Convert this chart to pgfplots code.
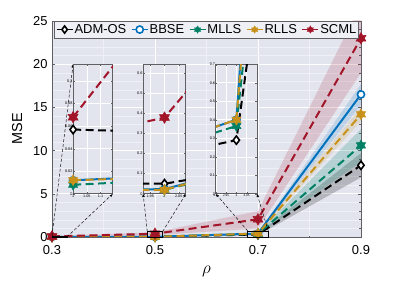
\documentclass[border=0pt]{standalone}
\usepackage{pgfplots}
\pgfplotsset{compat=1.18}
\usepackage{pgfplotstable}
\usepackage{fontspec}
\setmainfont{Liberation Sans}
\usetikzlibrary{arrows.meta}

\definecolor{bgc}{RGB}{226,228,238}
\definecolor{axc}{RGB}{95,95,100}
\definecolor{admc}{RGB}{0,0,0}
\definecolor{bbsec}{RGB}{0,114,189}
\definecolor{mllsc}{RGB}{0,128,100}
\definecolor{rllsc}{RGB}{200,145,25}
\definecolor{scmlc}{RGB}{162,20,40}

\pgfdeclareplotmark{hexagram}{%
  \pgfpathmoveto{\pgfpointpolar{90}{\pgfplotmarksize}}%
  \pgfpathlineto{\pgfpointpolar{120}{0.577\pgfplotmarksize}}%
  \pgfpathlineto{\pgfpointpolar{150}{\pgfplotmarksize}}%
  \pgfpathlineto{\pgfpointpolar{180}{0.577\pgfplotmarksize}}%
  \pgfpathlineto{\pgfpointpolar{210}{\pgfplotmarksize}}%
  \pgfpathlineto{\pgfpointpolar{240}{0.577\pgfplotmarksize}}%
  \pgfpathlineto{\pgfpointpolar{270}{\pgfplotmarksize}}%
  \pgfpathlineto{\pgfpointpolar{300}{0.577\pgfplotmarksize}}%
  \pgfpathlineto{\pgfpointpolar{330}{\pgfplotmarksize}}%
  \pgfpathlineto{\pgfpointpolar{0}{0.577\pgfplotmarksize}}%
  \pgfpathlineto{\pgfpointpolar{30}{\pgfplotmarksize}}%
  \pgfpathlineto{\pgfpointpolar{60}{0.577\pgfplotmarksize}}%
  \pgfpathclose
  \pgfusepathqfillstroke
}

\pgfplotstableread{
idx rho adm bbse mlls rlls scml
1 0.3 0.057 0.012 0.008 0.012 0.068
2 0.5 0.050 0.023 0.020 0.020 0.378
3 0.7 0.290 0.400 0.366 0.400 2.05
4 0.9 8.3 16.5 10.6 14.2 23.0
}\data

\tikzset{zoomline/.style={black, line width=0.45pt, densely dashed, -{Stealth[length=3.2bp,width=2.4bp,inset=0pt]}}}

\pgfplotsset{
  admS/.style={admc, line width=2pt, dash pattern=on 8pt off 4.5pt, mark=diamond*, mark size=4.2pt, mark options={solid, fill=white, line width=1.6pt}},
  bbseS/.style={bbsec, line width=2pt, solid, mark=*, mark size=3.6pt, mark options={solid, fill=white, line width=1.6pt}},
  mllsS/.style={mllsc, line width=2pt, dash pattern=on 8pt off 4.5pt, mark=hexagram, mark size=5.4pt, mark options={solid, fill=mllsc, line width=0.5pt}},
  rllsS/.style={rllsc, line width=2pt, dash pattern=on 8pt off 4.5pt, mark=hexagram, mark size=5.4pt, mark options={solid, fill=rllsc, line width=0.5pt}},
  scmlS/.style={scmlc, line width=2pt, dash pattern=on 8pt off 4.5pt, mark=hexagram, mark size=5.8pt, mark options={solid, fill=scmlc, line width=0.5pt}},
  inset/.style={scale only axis, height=129.6bp, anchor=south west,
    axis background/.style={fill=bgc},
    grid=major, major grid style={white, line width=0.5pt},
    tick align=inside, major tick length=1.5bp, tick style={axc, line width=0.3pt},
    axis line style={axc, line width=0.8pt},
    ticklabel style={font=\fontsize{3.8}{3.8}\selectfont, inner sep=0.5pt},
    /pgf/number format/assume math mode=true,
    /pgf/number format/fixed, scaled ticks=false,
    clip mode=individual, ymin=0},
}

\begin{document}
\begin{tikzpicture}
\path[use as bounding box] (-52bp,-45bp) rectangle (347bp,237bp);
\begin{axis}[name=main, scale only axis, width=309bp, height=216bp,
  xmin=0.3, xmax=0.9, ymin=0, ymax=25,
  xtick={0.3,0.5,0.7,0.9}, ytick={0,5,...,25},
  minor y tick num=4, minor x tick num=1,
  grid=both, major grid style={white, line width=0.8pt},
  minor grid style={white!45!bgc, line width=0.4pt},
  axis background/.style={fill=bgc},
  axis line style={axc, line width=0.6pt},
  tick align=inside, tick style={axc, line width=0.5pt},
  major tick length=3bp, minor tick length=1.5bp,
  xlabel={$\rho$}, ylabel={MSE},
  ticklabel style={font=\fontsize{13}{13}\selectfont},
  xticklabel style={/pgf/number format/fixed, /pgf/number format/precision=1, yshift=-5bp},
  yticklabel style={xshift=-1bp},
  /pgf/number format/assume math mode=true,
  label style={font=\fontsize{14.5}{14.5}\selectfont},
  xlabel style={yshift=-5bp, font=\fontsize{16}{16}\selectfont},
  ylabel style={yshift=4bp},
  clip mode=individual,
  legend columns=5,
  legend style={at={(0.5,1)}, anchor=north, draw=axc, line width=0.6pt, fill=bgc!55!white,
    font=\fontsize{13}{13}\selectfont, inner xsep=1pt, inner ysep=1.5pt,
    nodes={inner xsep=1pt, inner ysep=1.5pt},
    /tikz/every even column/.append style={column sep=3.5bp}},
  legend image code/.code={\draw[mark repeat=2, mark phase=2, solid, line width=1.8pt, mark size=3.6pt] plot coordinates {(0bp,0bp) (8bp,0bp) (16bp,0bp)};},
]
% bands
\addplot[draw=none, fill=admc, fill opacity=0.2, forget plot] coordinates {(0.3,0.05)(0.5,0.04)(0.7,0.2)(0.9,6.9)(0.9,9.7)(0.7,0.38)(0.5,0.06)(0.3,0.065)} --cycle;
\addplot[draw=none, fill=bbsec, fill opacity=0.16, forget plot] coordinates {(0.3,0.008)(0.5,0.015)(0.7,0.3)(0.9,15.3)(0.9,17.7)(0.7,0.5)(0.5,0.03)(0.3,0.016)} --cycle;
\addplot[draw=none, fill=mllsc, fill opacity=0.2, forget plot] coordinates {(0.3,0.005)(0.5,0.012)(0.7,0.26)(0.9,8.7)(0.9,12.5)(0.7,0.46)(0.5,0.028)(0.3,0.011)} --cycle;
\addplot[draw=none, fill=rllsc, fill opacity=0.16, forget plot] coordinates {(0.3,0.008)(0.5,0.012)(0.7,0.3)(0.9,13.4)(0.9,15.0)(0.7,0.5)(0.5,0.028)(0.3,0.016)} --cycle;
\addplot[draw=none, fill=scmlc, fill opacity=0.16, forget plot] coordinates {(0.3,0.05)(0.5,0.2)(0.7,1.0)(0.9,19)(0.9,27)(0.7,3.0)(0.5,0.55)(0.3,0.09)} --cycle;
% lines
\addplot[admS] table[x=rho, y=adm]{\data};
\addplot[bbseS] table[x=rho, y=bbse]{\data};
\addplot[mllsS] table[x=rho, y=mlls]{\data};
\addplot[rllsS] table[x=rho, y=rlls]{\data};
\addplot[scmlS] table[x=rho, y=scml]{\data};
\legend{ADM-OS, BBSE, MLLS, RLLS, SCML}
% zoom boxes and links
\draw[black, line width=0.6pt] (axis cs:0.3,0) rectangle (axis cs:0.329,0.115);
\draw[black, line width=0.6pt] (axis cs:0.485,0) rectangle (axis cs:0.515,0.643);
\draw[black, line width=0.6pt] (axis cs:0.68,0) rectangle (axis cs:0.72,0.7);
\draw[zoomline] (axis cs:0.3,0.115) -- (axis cs:0.341,20);
\draw[zoomline] (axis cs:0.329,0) -- (axis cs:0.418,5);
\draw[zoomline] (axis cs:0.485,0.643) -- (axis cs:0.477,5);
\draw[zoomline] (axis cs:0.515,0.643) -- (axis cs:0.560,5);
\draw[zoomline] (axis cs:0.68,0.7) -- (axis cs:0.618,5);
\draw[zoomline] (axis cs:0.72,0.7) -- (axis cs:0.698,5);
\coordinate (i1) at (axis cs:0.341,5);
\coordinate (i2) at (axis cs:0.477,5);
\coordinate (i3) at (axis cs:0.618,5);
\end{axis}

\begin{axis}[inset, at={(i1)}, width=39.7bp, xmin=1, xmax=1.145, ymax=0.115,
  xtick={1,1.05,1.1}, ytick={0,0.02,...,0.1}, restrict x to domain=0:2.5]
\addplot[admS] table[x=idx, y=adm]{\data};
\addplot[bbseS] table[x=idx, y=bbse]{\data};
\addplot[mllsS] table[x=idx, y=mlls]{\data};
\addplot[rllsS] table[x=idx, y=rlls]{\data};
\addplot[scmlS] table[x=idx, y=scml]{\data};
\end{axis}

\begin{axis}[inset, at={(i2)}, width=42.7bp, xmin=1.925, xmax=2.075, ymax=0.643,
  xtick={1.95,2,2.05}, ytick={0,0.1,...,0.6}]
\addplot[admS] table[x=idx, y=adm]{\data};
\addplot[bbseS] table[x=idx, y=bbse]{\data};
\addplot[mllsS] table[x=idx, y=mlls]{\data};
\addplot[rllsS] table[x=idx, y=rlls]{\data};
\addplot[scmlS] table[x=idx, y=scml]{\data};
\end{axis}

\begin{axis}[inset, at={(i3)}, width=41.2bp, xmin=2.9, xmax=3.1, ymax=0.7,
  xtick={2.9,2.95,3,3.05}, ytick={0,0.1,...,0.7},
  xticklabel style={font=\fontsize{3.1}{3.1}\selectfont}]
\addplot[admS] table[x=idx, y=adm]{\data};
\addplot[bbseS] table[x=idx, y=bbse]{\data};
\addplot[mllsS] table[x=idx, y=mlls]{\data};
\addplot[rllsS] table[x=idx, y=rlls]{\data};
\addplot[scmlS] table[x=idx, y=scml]{\data};
\end{axis}
\end{tikzpicture}
\end{document}
